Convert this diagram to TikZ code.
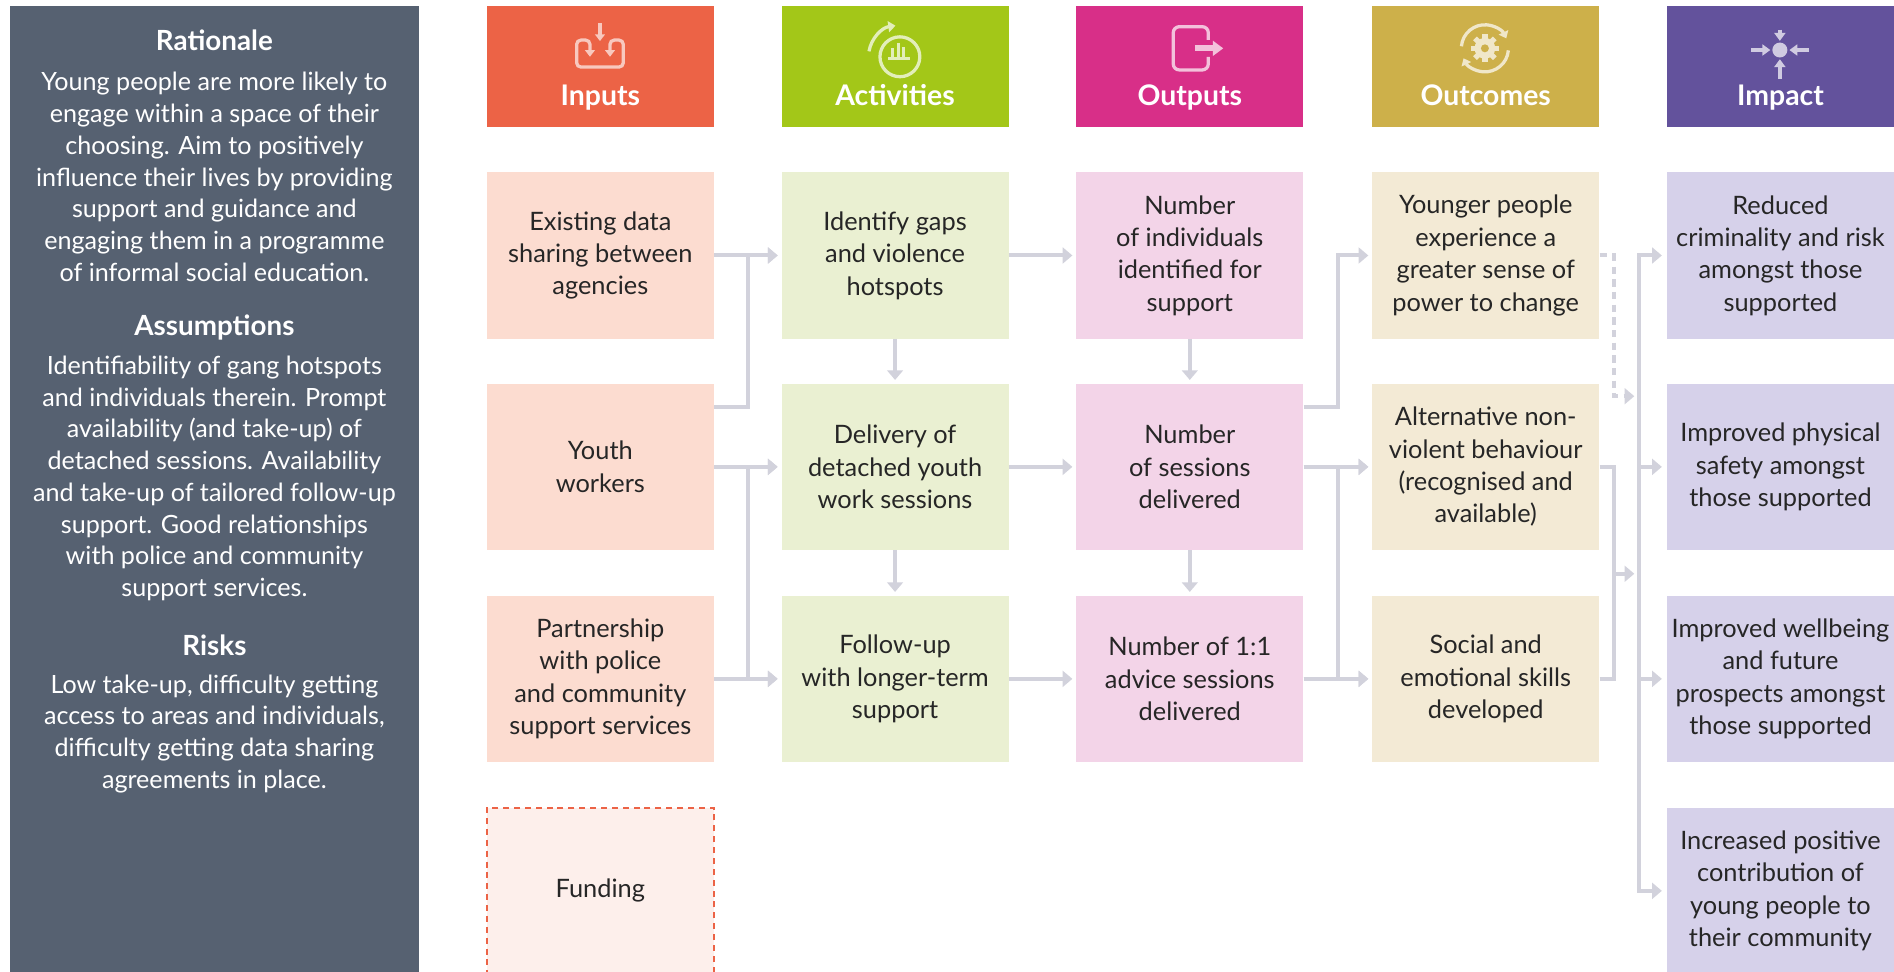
\documentclass[tikz,border=0pt]{standalone}
\usepackage{fontspec}
\setmainfont{Lato}
\usetikzlibrary{arrows.meta,calc}
\definecolor{panelc}{RGB}{86,97,113}
\definecolor{inH}{RGB}{236,99,70}
\definecolor{inB}{RGB}{252,220,208}
\definecolor{actH}{RGB}{163,199,24}
\definecolor{actB}{RGB}{234,240,210}
\definecolor{outH}{RGB}{216,47,136}
\definecolor{outB}{RGB}{243,212,232}
\definecolor{ocH}{RGB}{205,176,74}
\definecolor{ocB}{RGB}{243,234,213}
\definecolor{impH}{RGB}{99,82,156}
\definecolor{impB}{RGB}{214,209,234}
\definecolor{fundc}{RGB}{253,239,235}
\definecolor{linec}{RGB}{210,210,220}
\definecolor{txtc}{RGB}{38,38,38}
\colorlet{icIn}{inH!35!white}
\colorlet{icAct}{actH!30!white}
\colorlet{icOut}{outH!30!white}
\colorlet{icOc}{ocH!30!white}
\colorlet{icImp}{impH!30!white}
\tikzset{
  hdr/.style={minimum width=188pt, minimum height=100pt, inner sep=0pt},
  hdtxt/.style={anchor=base, text=white, font=\fontsize{23.5}{27}\selectfont\bfseries, inner sep=0pt},
  bx/.style={minimum width=188pt, minimum height=137.5pt, inner sep=0pt, align=center, text=txtc, font=\fontsize{21}{26.8}\selectfont},
  fundbox/.style={bx, fill=fundc, draw=inH, line width=1.2pt, dash pattern=on 5pt off 4pt},
  paneltxt/.style={align=center, text=white, inner sep=0pt, font=\fontsize{20.8}{26.3}\selectfont},
  panelhd/.style={text=white, inner sep=0pt, font=\fontsize{23}{27}\selectfont\bfseries},
  lin/.style={draw=linec, line width=3.3pt},
  conn/.style={lin, -{Triangle[length=8pt,width=13pt]}, shorten >=3pt},
  dconn/.style={conn, dash pattern=on 6pt off 4.5pt},
  icon/.style={line width=2.7pt},
}
\begin{document}
\begin{tikzpicture}[x=1pt,y=-1pt]
\useasboundingbox (0,0) rectangle (1568,804);
\fill[white] (0,0) rectangle (1568,804);
% left panel
\fill[panelc] (8,5) rectangle (347,812);
\node[panelhd] (pRat) at (177.5,33) {Rationale};
\node[paneltxt] (pRatT) at (177.5,146.5) {Young people are more likely to\\engage within a space of their\\choosing. Aim to positively\\influence their lives by providing\\support and guidance and\\engaging them in a programme\\of informal social education.};
\node[panelhd] (pAss) at (177.5,271) {Assumptions};
\node[paneltxt] (pAssT) at (177.5,396) {Identifiability of gang hotspots\\and individuals therein. Prompt\\availability (and take-up) of\\detached sessions. Availability\\and take-up of tailored follow-up\\support. Good relationships\\with police and community\\support services.};
\node[panelhd] (pRisk) at (177.5,534) {Risks};
\node[paneltxt] (pRiskT) at (177.5,607.5) {Low take-up, difficulty getting\\access to areas and individuals,\\difficulty getting data sharing\\agreements in place.};
% headers
\node[hdr, fill=inH] (hIn) at (497,55) {};
\node[hdr, fill=actH] (hAct) at (741,55) {};
\node[hdr, fill=outH] (hOut) at (985,55) {};
\node[hdr, fill=ocH] (hOc) at (1230,55) {};
\node[hdr, fill=impH] (hImp) at (1474,55) {};
\node[hdtxt] (tIn) at (497,87.5) {Inputs};
\node[hdtxt] (tAct) at (741,87.5) {Activities};
\node[hdtxt] (tOut) at (985,87.5) {Outputs};
\node[hdtxt] (tOc) at (1230,87.5) {Outcomes};
\node[hdtxt] (tImp) at (1474,87.5) {Impact};
% icons
\draw[icon, draw=icIn, rounded corners=3.5pt, {Triangle[length=5.5pt,width=8pt]}-{Triangle[length=5.5pt,width=8pt]}]
  (488.4,47) -- (488.4,33.2) -- (477.4,33.2) -- (477.4,55.5) -- (516,55.5) -- (516,33.2) -- (505,33.2) -- (505,47);
\draw[icon, draw=icIn, -{Triangle[length=5.5pt,width=8pt]}] (496.7,19) -- (496.7,34);
\draw[icon, draw=icAct] (745,47) circle[radius=16.5];
\draw[icon, draw=icAct, -{Triangle[length=6pt,width=9pt]}] (745,47) ++(190:26) arc[start angle=190, end angle=262, radius=26];
\fill[icAct] (735.5,47.2) rectangle (753,49.8);
\fill[icAct] (737.3,47.4) rectangle (739.8,40);
\fill[icAct] (742.3,47.4) rectangle (744.8,36);
\fill[icAct] (746.4,47.4) rectangle (748.9,39);
\draw[icon, draw=icOut, rounded corners=5pt] (1000.3,33) -- (1000.3,22.1) -- (971.3,22.1) -- (971.3,57.9) -- (1000.3,57.9) -- (1000.3,47);
\draw[draw=icOut, line width=5.2pt, -{Triangle[length=8.5pt,width=12pt]}] (989.2,40) -- (1012.7,40);
\fill[icOc] (1229.3,40) circle[radius=8.6];
\foreach \a in {0,45,...,315} \fill[icOc, rotate around={\a:(1229.3,40)}] (1227.1,28.4) rectangle (1231.5,34);
\fill[ocH] (1229.3,40) circle[radius=3.3];
\draw[icon, draw=icOc, -{Triangle[length=5.5pt,width=8.5pt]}] (1229.3,40) ++(185:19.5) arc[start angle=185, end angle=335, radius=19.5];
\draw[icon, draw=icOc, -{Triangle[length=5.5pt,width=8.5pt]}] (1229.3,40) ++(5:19.5) arc[start angle=5, end angle=155, radius=19.5];
\fill[icImp] (1473.5,41.4) circle[radius=6.2];
\draw[icon, draw=icImp, -{Triangle[length=6.5pt,width=9pt]}] (1473.5,24.5) -- (1473.5,33.8);
\draw[icon, draw=icImp, -{Triangle[length=6.5pt,width=9pt]}] (1473.5,65.5) -- (1473.5,49);
\draw[icon, draw=icImp, -{Triangle[length=6.5pt,width=9pt]}] (1449.5,41.4) -- (1465.6,41.4);
\draw[icon, draw=icImp, -{Triangle[length=6.5pt,width=9pt]}] (1497.5,41.4) -- (1481.4,41.4);
% boxes
\node[bx, fill=inB] (in1) at (497,211.5) {Existing data\\sharing between\\agencies};
\node[bx, fill=inB] (in2) at (497,386.5) {Youth\\workers};
\node[bx, fill=inB] (in3) at (497,562) {Partnership\\with police\\and community\\support services};
\node[fundbox] (fund) at (497,737.5) {Funding};
\node[bx, fill=actB] (act1) at (741,211.5) {Identify gaps\\and violence\\hotspots};
\node[bx, fill=actB] (act2) at (741,386.5) {Delivery of\\detached youth\\work sessions};
\node[bx, fill=actB] (act3) at (741,562) {Follow-up\\with longer-term\\support};
\node[bx, fill=outB] (out1) at (985,211.5) {Number\\of individuals\\identified for\\support};
\node[bx, fill=outB] (out2) at (985,386.5) {Number\\of sessions\\delivered};
\node[bx, fill=outB] (out3) at (985,562) {Number of 1:1\\advice sessions\\delivered};
\node[bx, fill=ocB] (oc1) at (1230,211.5) {Younger people\\experience a\\greater sense of\\power to change};
\node[bx, fill=ocB] (oc2) at (1230,386.5) {Alternative non-\\violent behaviour\\(recognised and\\available)};
\node[bx, fill=ocB] (oc3) at (1230,562) {Social and\\emotional skills\\developed};
\node[bx, fill=impB] (im1) at (1474,211.5) {Reduced\\criminality and risk\\amongst those\\supported};
\node[bx, fill=impB] (im2) at (1474,386.5) {Improved physical\\safety amongst\\those supported};
\node[bx, fill=impB] (im3) at (1474,562) {Improved wellbeing\\and future\\prospects amongst\\those supported};
\node[bx, fill=impB] (im4) at (1474,737.5) {Increased positive\\contribution of\\young people to\\their community};
% junction coordinates
\coordinate (j1) at (619,0);
\coordinate (j2) at (1108,0);
\coordinate (m1) at (1336,328);
\coordinate (m2) at (1336,475);
\coordinate (bt) at (1357,211.5);
\coordinate (bb) at (1357,737.5);
% inputs -> activities
\draw[conn] (in1.east) -- (act1.west);
\draw[conn] ([yshift=-19pt]in2.north east) -| (j1 |- act1.west) -- (act1.west);
\draw[conn] (in2.east) -- (act2.west);
\draw[conn] (in3.east) -| (j1 |- act2.west) -- (act2.west);
\draw[conn] (in2.east) -| (j1 |- act3.west) -- (act3.west);
\draw[conn] (in3.east) -- (act3.west);
% activities
\draw[conn] (act1.south) -- (act2.north);
\draw[conn] (act2.south) -- (act3.north);
\draw[conn] (act1.east) -- (out1.west);
\draw[conn] (act2.east) -- (out2.west);
\draw[conn] (act3.east) -- (out3.west);
% outputs
\draw[conn] (out1.south) -- (out2.north);
\draw[conn] (out2.south) -- (out3.north);
\draw[conn] ([yshift=-19pt]out2.north east) -| (j2 |- oc1.west) -- (oc1.west);
\draw[conn] (out2.east) -- (oc2.west);
\draw[conn] (out3.east) -| (j2 |- oc2.west) -- (oc2.west);
\draw[conn] (out2.east) -| (j2 |- oc3.west) -- (oc3.west);
\draw[conn] (out3.east) -- (oc3.west);
% outcomes -> impact
\draw[dconn, shorten >=4pt] (oc1.east) -| (m1) -- (m1 -| bt);
\draw[lin] (oc2.east) -| (m2);
\draw[lin] (oc3.east) -| (m2);
\draw[conn, shorten >=4pt] (m2) -- (m2 -| bt);
\draw[conn, shorten >=4pt] (bb) |- (im1.west);
\draw[conn, shorten >=4pt] (bt) |- (im4.west);
\draw[conn, shorten >=4pt] (bt |- im2.west) -- (im2.west);
\draw[conn, shorten >=4pt] (bt |- im3.west) -- (im3.west);
\end{tikzpicture}
\end{document}
